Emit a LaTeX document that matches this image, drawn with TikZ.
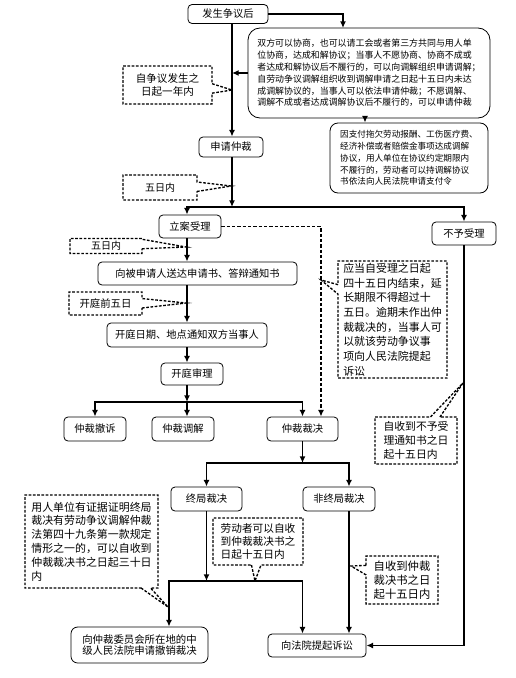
\documentclass[tikz,border=0pt]{standalone}
\usepackage{fontspec}
\setmainfont{Noto Sans CJK SC}
\usetikzlibrary{positioning}
\usetikzlibrary{calc}
\usetikzlibrary{arrows.meta}
\usetikzlibrary{shapes.callouts}

\tikzset{
  wh/.style 2 args={minimum width=#1*0.75pt, minimum height=#2*0.75pt},
  box/.style={draw, rectangle, rounded corners=3pt, line width=0.6pt, inner sep=0pt, align=center, font=\fontsize{7.7}{9}\selectfont},
  note/.style={rectangle callout, draw, line width=1pt, dash pattern=on 2pt off 1.2pt, inner sep=0pt, align=left},
  arr/.style={-{Latex[length=5pt,width=4.5pt]}, line width=1.4pt},
  dasharr/.style={-{Latex[length=5pt,width=4.5pt]}, line width=1.1pt, dash pattern=on 2.5pt off 1.5pt},
}

\begin{document}
\begin{tikzpicture}[x=0.75pt, y=-0.75pt]
\useasboundingbox (0,0) rectangle (515,678);
% columns and forks
\coordinate (trunk) at (232,0);
\coordinate (axis) at (187,0);
\coordinate (medin) at (343,28);
\coordinate (medout) at (365,0);
\coordinate (lawx) at (321,0);
\coordinate (nfx) at (349,0);
\coordinate (rvx) at (169,0);
\coordinate (fork1) at (232,207);
\coordinate (fork2) at (187,402);
\coordinate (fork3) at (302.5,463);
\coordinate (fork4) at (206.5,581);

% boxes
\node[box, wh={80}{19}] (start) at (228,14) {发生争议后};
\node[box, rounded corners=9pt, wh={242}{90}, font=\fontsize{6.7}{8.85}\selectfont, align=left] (med) at (369,73) {双方可以协商，也可以请工会或者第三方共同与用人单\\位协商，达成和解协议；当事人不愿协商、协商不成或\\者达成和解协议后不履行的，可以向调解组织申请调解；\\自劳动争议调解组织收到调解申请之日起十五日内未达\\成调解协议的，当事人可以依法申请仲裁；不愿调解、\\调解不成或者达成调解协议后不履行的，可以申请仲裁};
\node[box, rounded corners=6pt, wh={158}{70}, font=\fontsize{6.45}{8.8}\selectfont, align=left] (sup) at (409,158) {因支付拖欠劳动报酬、工伤医疗费、\\经济补偿或者赔偿金事项达成调解\\协议，用人单位在协议约定期限内\\不履行的，劳动者可以持调解协议\\书依法向人民法院申请支付令};
\node[box, wh={64}{20}] (apply) at (231,147) {申请仲裁};
\node[box, wh={62}{23}] (accept) at (190,226.5) {立案受理};
\node[box, wh={64}{23}] (reject) at (464,233.5) {不予受理};
\node[box, wh={199}{23}] (notify) at (197.5,273.5) {向被申请人送达申请书、答辩通知书};
\node[box, wh={160}{24}] (date) at (187,335) {开庭日期、地点通知双方当事人};
\node[box, wh={62}{22}] (hearing) at (192,374) {开庭审理};
\node[box, wh={62}{24}] (withdraw) at (95,429) {仲裁撤诉};
\node[box, wh={62}{24}] (mediate) at (183,429) {仲裁调解};
\node[box, wh={71}{24}] (award) at (302.5,429) {仲裁裁决};
\node[box, wh={71}{24}] (final) at (206.5,499) {终局裁决};
\node[box, wh={72}{24}] (nonfinal) at (339,499) {非终局裁决};
\node[box, rounded corners=5pt, wh={137}{36}, font=\fontsize{7.8}{8.8}\selectfont] (revoke) at (139.5,645) {向仲裁委员会所在地的中\\级人民法院申请撤销裁决};
\node[box, wh={98}{23}] (court) at (317,645.5) {向法院提起诉讼};

% callouts
\node[note, align=center, wh={89}{38}, font=\fontsize{7.9}{9.75}\selectfont, callout absolute pointer={(232,90)}] (year) at (167.5,85) {自争议发生之\\日起一年内};
\node[note, wh={74}{25}, font=\fontsize{7.5}{9}\selectfont, callout absolute pointer={(231,186)}] (five1) at (160,187.5) {五日内};
\node[note, wh={72}{15}, font=\fontsize{7.5}{9}\selectfont, callout absolute pointer={(186,247)}] (five2) at (106,246) {五日内};
\node[note, wh={73}{23}, font=\fontsize{7.8}{9}\selectfont, callout absolute pointer={(186,303)}] (pre5) at (105.5,303.5) {开庭前五日};
\node[note, wh={109}{117}, font=\fontsize{8.2}{11}\selectfont, callout absolute pointer={(321,280)}] (limit) at (392.5,319.5) {应当自受理之日起\\四十五日内结束，延\\长期限不得超过十\\五日。逾期未作出仲\\裁裁决的，当事人可\\以就该劳动争议事\\项向人民法院提起\\诉讼};
\node[note, wh={82}{47}, font=\fontsize{8.1}{10.5}\selectfont, callout absolute pointer={(463,383)}] (noaccept) at (416,440.5) {自收到不予受\\理通知书之日\\起十五日内};
\node[note, wh={133}{93}, font=\fontsize{8.2}{10.35}\selectfont, callout absolute pointer={(168,607)}] (employer) at (91.5,541.5) {用人单位有证据证明终局\\裁决有劳动争议调解仲裁\\法第四十九条第一款规定\\情形之一的，可以自收到\\仲裁裁决书之日起三十日\\内};
\node[note, wh={90}{47}, font=\fontsize{8}{9.75}\selectfont, callout absolute pointer={(255,581)}] (worker) at (258,541.5) {劳动者可以自收\\到仲裁裁决书之\\日起十五日内};
\node[note, wh={72}{48}, font=\fontsize{8.5}{10.5}\selectfont, callout absolute pointer={(351,566)}] (appeal) at (402,580) {自收到仲裁\\裁决书之日\\起十五日内};

% connectors
\draw[arr] (start.south -| trunk) -- (apply.north -| trunk);
\draw[arr] (start.east) -| (medin);
\draw[arr] (med.west) -- (med.west -| trunk);
\draw[arr] (med.south -| medout) -- (sup.north -| medout);
\draw[arr] (apply.south -| trunk) -- (fork1);
\draw[arr] (fork1) -| (accept.north -| axis);
\draw[arr] (fork1) -| (reject.north);
\draw[arr] (accept.south -| axis) -- (notify.north -| axis);
\draw[arr] (notify.south -| axis) -- (date.north -| axis);
\draw[arr] (date.south -| axis) -- (hearing.north -| axis);
\draw[arr] (hearing.south -| axis) -- (fork2);
\draw[arr] (fork2) -| (withdraw.north);
\draw[arr] (fork2) -- (mediate.north -| axis);
\draw[arr] (fork2) -| (award.north);
\draw[dasharr] (accept.east) -| (award.north -| lawx);
\draw[arr] (award.south) -- (fork3);
\draw[arr] (fork3) -| (final.north);
\draw[arr] (fork3) -| (nonfinal.north -| nfx);
\draw[arr] (final.south) -- (fork4);
\draw[arr] (fork4) -| (revoke.north -| rvx);
\draw[arr] (fork4) -| (court.north -| fork3);
\draw[arr] (nonfinal.south -| nfx) -- (court.north -| nfx);
\draw[arr] (reject.south) |- (court.east);
\end{tikzpicture}
\end{document}
